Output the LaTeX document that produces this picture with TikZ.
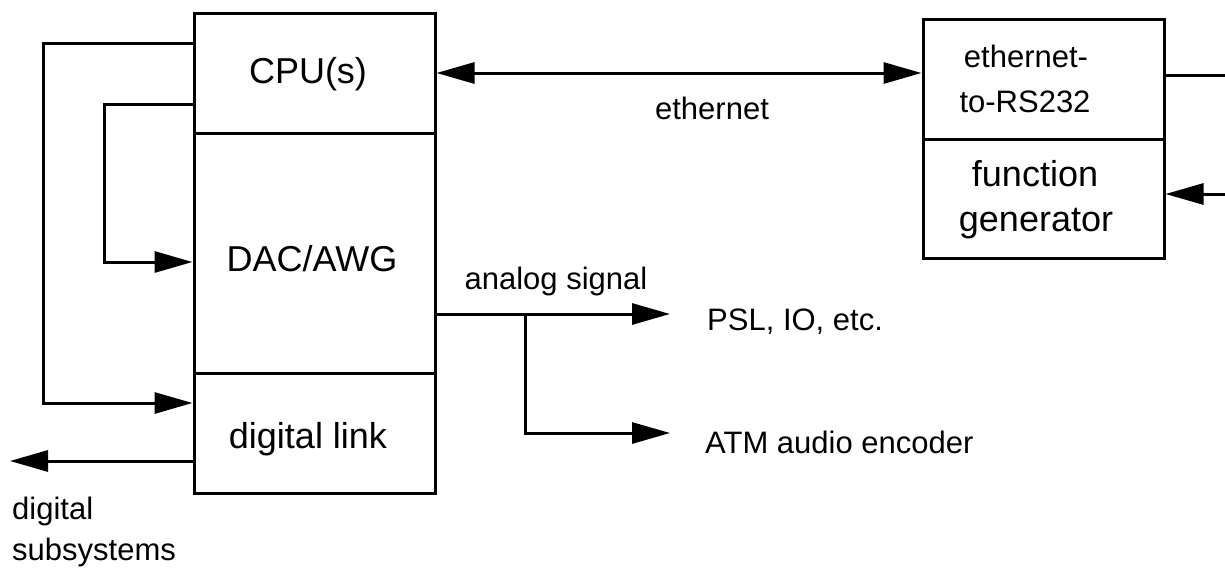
\documentclass[tikz,border=0pt]{standalone}
\usepackage{fontspec}
\setmainfont{Liberation Sans}
\usetikzlibrary{arrows.meta}
\tikzset{
  blk/.style={draw, line width=3pt, minimum width=241pt, inner sep=0pt},
  big/.style={font=\fontsize{36}{40}\selectfont, anchor=base, inner sep=0pt},
  sml/.style={font=\fontsize{31}{36}\selectfont, anchor=base, inner sep=0pt},
  conn/.style={line width=3pt},
  arr/.style={conn, -{Triangle[length=38pt,width=21pt]}},
  darr/.style={conn, {Triangle[length=38pt,width=21pt]}-{Triangle[length=38pt,width=21pt]}}
}
\begin{document}
\begin{tikzpicture}[x=1pt,y=-1pt]
\useasboundingbox (0,0) rectangle (1225,570);
% blocks
\node[blk, minimum height=120pt] (cpu) at (314.5,73) {};
\node[blk, minimum height=240pt] (dac) at (314.5,253) {};
\node[blk, minimum height=120pt] (dl) at (314.5,433) {};
\node[blk, minimum height=120pt] (e2r) at (1043.5,79) {};
\node[blk, minimum height=119pt] (fg) at (1043.5,198.5) {};
% texts
\node[big] (tcpu) at (308,83) {CPU(s)};
\node[big] (tdac) at (312,271) {DAC/AWG};
\node[big] (tdl) at (308,448) {digital link};
\node[sml] (te1) at (1026,67) {ethernet-};
\node[sml] (te2) at (1025,112) {to-RS232};
\node[big] (tf1) at (1035,186) {function};
\node[big] (tf2) at (1036,231) {generator};
\node[sml] (teth) at (712,119) {ethernet};
\node[sml] (tan) at (556,289) {analog signal};
\node[sml, anchor=base west] (psl) at (707,330) {PSL, IO, etc.};
\node[sml, anchor=base west] (atm) at (705,453) {ATM audio encoder};
\node[sml, anchor=base west] (tds1) at (12,519) {digital};
\node[sml, anchor=base west] (tds2) at (12,560) {subsystems};
% connectors
\draw[arr] (cpu.west |- 0,43) -| (43,403) -- (dl.west |- 0,403);
\draw[arr] (cpu.west |- 0,104) -| (104,262) -- (dac.west |- 0,262);
\coordinate (dsend) at (10,461);
\draw[arr] (dl.west |- dsend) -- (dsend);
\draw[darr] (cpu.east |- 0,73) -- (e2r.west |- 0,73);
\coordinate (rs) at (1226,75);
\draw[conn] (e2r.east |- rs) -- (rs);
\coordinate (fgin) at (1226,194);
\draw[arr] (fgin) -- (fg.east |- fgin);
\coordinate (a1) at (670,314);
\draw[arr] (dac.east |- a1) -- (a1);
\coordinate (a2) at (670,433);
\draw[arr] (525,314) |- (a2);
\end{tikzpicture}
\end{document}
